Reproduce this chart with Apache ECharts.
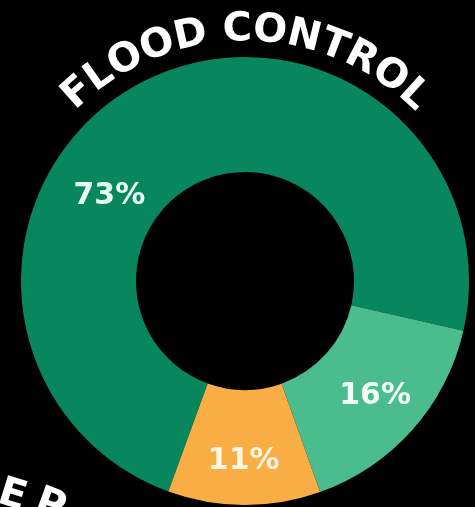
<!DOCTYPE html>
<html><head><meta charset="utf-8">
<script src="https://cdn.jsdelivr.net/npm/echarts@6/dist/echarts.min.js"></script>
<style>html,body{margin:0;padding:0;background:#000;overflow:hidden;}#c{width:475px;height:507px;}</style>
</head><body><div id="c"></div>
<script>
// ---- data ----
const categories = ['Segment A', 'Segment B', 'Segment C'];
const values = [73, 16, 11];
const valueLabels = ['73%', '16%', '11%'];
const titleText = 'FLOOD CONTROL';
const bottomLetters = ['E', 'P'];

// ---- style / layout ----
const CX = 245, CY = 281, R0 = 109, R1 = 224;
const colors = ['#08875f', '#4bbc8e', '#f8ae45'];
const labelColors = ['#e6fff3', '#f0fff8', '#fff5e0'];
const labelPolar = [[148, 160], [-41.6, 174], [-90.4, 180]];
const FONT_FAMILY = '"DejaVu Sans", Lato, sans-serif';

const chart = echarts.init(document.getElementById('c'), null, {renderer: 'canvas'});

const titleSize = 40;
const titleFont = 'bold ' + titleSize + 'px ' + FONT_FAMILY;
const ctx = document.createElement('canvas').getContext('2d');
ctx.font = titleFont;
const chars = titleText.split('');
const widths = chars.map(c => ctx.measureText(c).width);
const startDeg = 131.6, endDeg = 47.8, TR = 251;
let base = 0;
for (let i = 0; i < chars.length - 1; i++) base += widths[i] / 2 + widths[i + 1] / 2;
const targetLen = TR * (startDeg - endDeg) * Math.PI / 180;
const spacing = (targetLen - base) / (chars.length - 1);
const graphics = [];
let s = 0;
chars.forEach((c, i) => {
  if (i > 0) s += widths[i - 1] / 2 + widths[i] / 2 + spacing;
  if (c === ' ') return;
  const a = startDeg * Math.PI / 180 - s / TR;
  graphics.push({
    type: 'text', x: CX + TR * Math.cos(a), y: CY - TR * Math.sin(a),
    rotation: a - Math.PI / 2, silent: true,
    style: {text: c, fill: '#ffffff', font: titleFont, align: 'center', verticalAlign: 'middle'}
  });
});
// partial lower text
const bottomPos = [[12, 496, -0.3], [50, 506, -0.35]];
bottomLetters.forEach((c, i) => {
  graphics.push({
    type: 'text', x: bottomPos[i][0], y: bottomPos[i][1], rotation: bottomPos[i][2], silent: true,
    style: {text: c, fill: '#ffffff', font: titleFont, align: 'center', verticalAlign: 'middle'}
  });
});

chart.setOption({
  backgroundColor: '#000000',
  animation: false,
  graphic: graphics,
  series: [{
    type: 'pie',
    center: [CX, CY],
    radius: [R0, R1],
    startAngle: 250,
    clockwise: true,
    silent: true,
    avoidLabelOverlap: false,
    itemStyle: {borderWidth: 0, borderRadius: 0},
    padAngle: 0,
    labelLine: {show: false},
    label: {
      show: true, position: 'inside',
      formatter: p => valueLabels[p.dataIndex],
      fontSize: 30, fontWeight: 'bold', fontFamily: FONT_FAMILY
    },
    labelLayout: p => {
      const lp = labelPolar[p.dataIndex];
      const a = lp[0] * Math.PI / 180;
      return {x: CX + lp[1] * Math.cos(a), y: CY - lp[1] * Math.sin(a)};
    },
    data: values.map((v, i) => ({
      name: categories[i], value: v,
      itemStyle: {color: colors[i]},
      label: {color: labelColors[i]}
    }))
  }]
});
</script></body></html>
